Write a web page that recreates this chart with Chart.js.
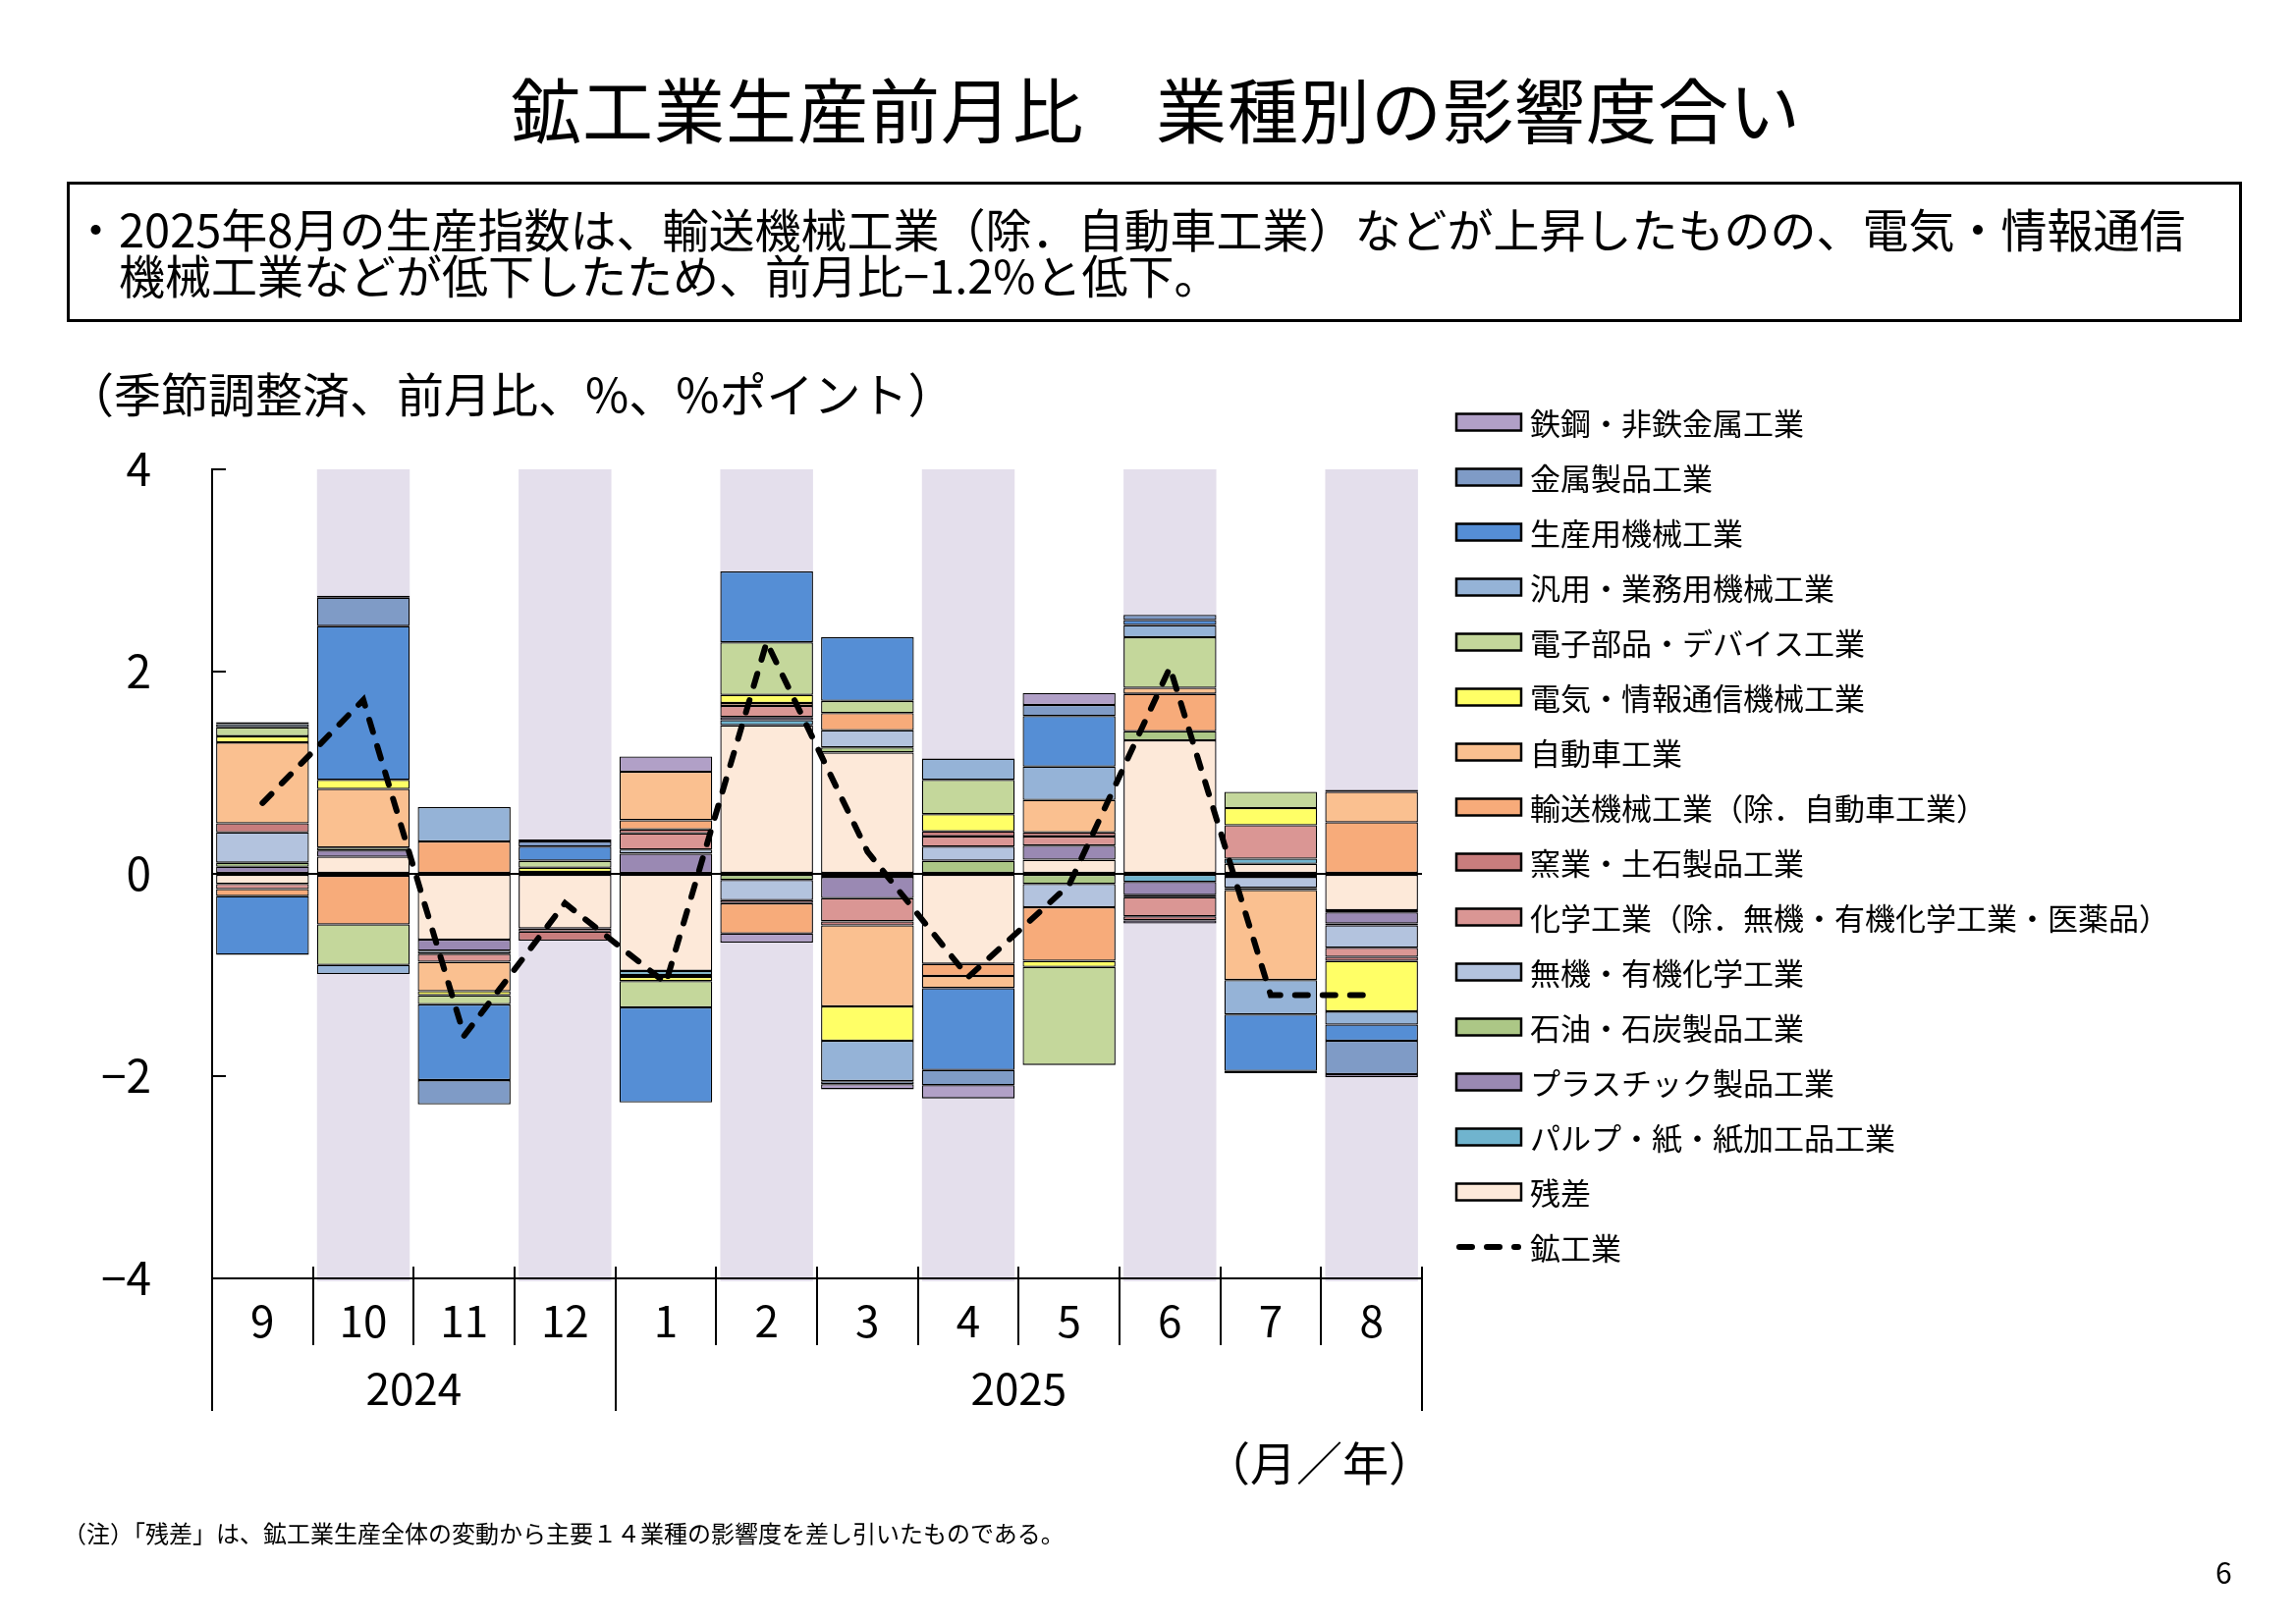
<!DOCTYPE html>
<html lang="ja">
<head>
<meta charset="utf-8">
<title>鉱工業生産前月比　業種別の影響度合い</title>
<script src="https://cdn.jsdelivr.net/npm/chart.js@4.4.1/dist/chart.umd.min.js"></script>
<style>
  html, body { margin: 0; padding: 0; background: #fff; }
  #page {
    position: relative; width: 2338px; height: 1654px; overflow: hidden;
    font-family: 'Noto Sans CJK JP', 'Noto Sans', sans-serif; color: #000;
  }
  #chartBox { position: absolute; left: 0; top: 0; width: 2338px; height: 1654px; }
  .title {
    position: absolute; left: 8px; width: 2338px; top: 73px;
    font-size: 72px; line-height: 72px; text-align: center; letter-spacing: 1px;
  }
  .summary {
    position: absolute; left: 68px; top: 185px; width: 2215px; height: 143px;
    box-sizing: border-box; border: 3px solid #000;
    padding: 20px 0 0 50px; text-indent: -47px;
    font-size: 47px; line-height: 47px;
  }
  .unit { position: absolute; left: 68px; top: 374px; font-size: 48px; line-height: 50px; }
  .xunit { position: absolute; right: 877px; top: 1463px; font-size: 47px; line-height: 50px; }
  .note { position: absolute; left: 64px; top: 1547px; font-size: 24px; line-height: 28px; }
  .pageno { position: absolute; left: 2256px; top: 1582px; font-size: 30px; line-height: 36px; }
</style>
</head>
<body>
<div id="page">
  <div id="chartBox"><canvas id="chart"></canvas></div>
  <div class="title">鉱工業生産前月比　業種別の影響度合い</div>
  <div class="summary">・2025年8月の生産指数は、輸送機械工業（除．自動車工業）などが上昇したものの、電気・情報通信<br>機械工業などが低下したため、前月比−1.2%と低下。</div>
  <div class="unit">（季節調整済、前月比、%、%ポイント）</div>
  <div class="xunit">（月／年）</div>
  <div class="note">（注）「残差」は、鉱工業生産全体の変動から主要１４業種の影響度を差し引いたものである。</div>
  <div class="pageno">6</div>
</div>
<script>
const FONT = "'Noto Sans CJK JP', 'Noto Sans', sans-serif";

// Months (2024/9 - 2025/8)
const months = ["9", "10", "11", "12", "1", "2", "3", "4", "5", "6", "7", "8"];
const yearLabels = ["2024", "2025"];
const yearSpans = [4, 8];

// Contributions by industry, %pt
const residual   = [-0.10, 0.17, -0.65, -0.54, -0.96, 1.47, 1.20, -0.89, 0.14, 1.32, 0.10, -0.36];
const pulp       = [0, 0, 0, 0, -0.04, 0.05, -0.03, 0, 0, -0.08, 0.05, -0.02];
const plastic    = [0.07, 0.06, -0.11, 0, 0.20, 0.03, -0.21, 0, 0.14, -0.13, 0, -0.11];
const petroleum  = [0.04, 0.03, 0, 0, -0.02, -0.06, 0.05, 0.13, -0.10, 0.09, -0.03, -0.02];
const inorganic  = [0.30, -0.02, -0.03, 0.02, 0.04, -0.20, 0.17, 0.14, -0.23, -0.02, -0.11, -0.22];
const chemical   = [-0.05, 0, -0.08, -0.03, 0.16, 0.11, -0.23, 0.10, 0.09, -0.19, 0.33, -0.09];
const ceramics   = [0.09, 0, 0, -0.09, 0.04, -0.03, -0.04, 0.05, 0.04, -0.04, -0.02, -0.04];
const transport  = [-0.07, -0.48, 0.32, 0, 0.09, -0.30, 0.17, -0.12, -0.53, 0.37, 0, 0.51];
const autos      = [0.80, 0.58, -0.29, 0, 0.48, 0.03, -0.80, -0.12, 0.32, 0.06, -0.89, 0.30];
const electric   = [0.06, 0.09, -0.04, 0.04, -0.04, 0.08, -0.34, 0.17, -0.06, 0, 0.17, -0.50];
const electronic = [0.09, -0.40, -0.09, 0.07, -0.26, 0.52, 0.12, 0.34, -0.97, 0.50, 0.16, 0.02];
const general    = [0.03, -0.09, 0.34, 0, 0, 0, -0.40, 0.21, 0.33, 0.12, -0.34, -0.13];
const production = [-0.58, 1.52, -0.75, 0.14, -0.94, 0.70, 0.63, -0.81, 0.50, 0.05, -0.56, -0.16];
const metal      = [0, 0.28, -0.24, 0.05, 0, 0, -0.03, -0.15, 0.11, 0.05, -0.02, -0.33];
const steel      = [0.02, 0.02, 0, 0.02, 0.15, -0.09, -0.05, -0.13, 0.12, -0.03, 0, -0.03];

// Mining & manufacturing, m/m %
const total = [0.70, 1.72, -1.60, -0.29, -1.08, 2.29, 0.22, -1.02, -0.11, 2.04, -1.20, -1.20];

// Stack order from zero outward
const barSeries = [
  ["残差", residual, "#fde9d9"],
  ["パルプ・紙・紙加工品工業", pulp, "#70b4ce"],
  ["プラスチック製品工業", plastic, "#9a89b3"],
  ["石油・石炭製品工業", petroleum, "#acc786"],
  ["無機・有機化学工業", inorganic, "#b3c3de"],
  ["化学工業（除．無機・有機化学工業・医薬品）", chemical, "#da9694"],
  ["窯業・土石製品工業", ceramics, "#c87d7d"],
  ["輸送機械工業（除．自動車工業）", transport, "#f7ab7a"],
  ["自動車工業", autos, "#fac090"],
  ["電気・情報通信機械工業", electric, "#ffff66"],
  ["電子部品・デバイス工業", electronic, "#c4d79b"],
  ["汎用・業務用機械工業", general, "#95b3d7"],
  ["生産用機械工業", production, "#558ed5"],
  ["金属製品工業", metal, "#7f9bc6"],
  ["鉄鋼・非鉄金属工業", steel, "#b1a0c7"],
];

const BAR_PCT = 0.92;

// Shaded background for every other month
const bandsPlugin = {
  id: "bands",
  beforeDraw(chart) {
    const { ctx, chartArea, scales: { x } } = chart;
    const catW = (chartArea.right - chartArea.left) / months.length;
    ctx.save();
    ctx.fillStyle = "#e4dfec";
    months.forEach((m, i) => {
      if (i % 2 === 1) {
        const cx = x.getPixelForValue(i);
        ctx.fillRect(cx - catW * BAR_PCT / 2, chartArea.top, catW * BAR_PCT, chartArea.bottom - chartArea.top + 3);
      }
    });
    ctx.restore();
  },
};

// Inner y ticks, month separators and year row
const axisPlugin = {
  id: "axisDecor",
  afterDraw(chart) {
    const { ctx, chartArea, scales: { y } } = chart;
    const catW = (chartArea.right - chartArea.left) / months.length;
    ctx.save();
    ctx.strokeStyle = "#000";
    ctx.lineWidth = 2;
    ctx.beginPath();
    y.ticks.forEach((t) => {
      const py = Math.round(y.getPixelForValue(t.value));
      ctx.moveTo(chartArea.left, py);
      ctx.lineTo(chartArea.left + 14, py);
    });
    const bottom = chartArea.bottom;
    const yearBottom = bottom + 135;
    const longAt = [yearSpans[0], months.length];
    for (let k = 1; k <= months.length; k++) {
      const px = Math.round(chartArea.left + k * catW);
      ctx.moveTo(px, bottom - 12);
      ctx.lineTo(px, longAt.includes(k) ? yearBottom : bottom + 68);
    }
    ctx.moveTo(chartArea.left, bottom);
    ctx.lineTo(chartArea.left, yearBottom);
    ctx.stroke();

    ctx.fillStyle = "#000";
    ctx.font = "44px " + FONT;
    ctx.textAlign = "center";
    ctx.textBaseline = "middle";
    let start = 0;
    yearLabels.forEach((label, i) => {
      const x0 = chartArea.left + start * catW;
      const x1 = x0 + yearSpans[i] * catW;
      ctx.fillText(label, (x0 + x1) / 2, bottom + 112);
      start += yearSpans[i];
    });
    ctx.restore();
  },
};

// Legend on the right, top item = last stacked series
const legendPlugin = {
  id: "sideLegend",
  afterDraw(chart) {
    const { ctx } = chart;
    const left = 1483, boxW = 66, boxH = 17, textX = 1558, top = 430, step = 56;
    const sets = chart.data.datasets;
    const bars = sets.filter((d) => d.type !== "line").reverse();
    const lines = sets.filter((d) => d.type === "line");
    ctx.save();
    ctx.font = "31px " + FONT;
    ctx.textBaseline = "middle";
    ctx.textAlign = "left";
    bars.concat(lines).forEach((d, i) => {
      const cy = top + i * step;
      if (d.type === "line") {
        ctx.strokeStyle = d.borderColor;
        ctx.lineWidth = d.borderWidth;
        ctx.lineCap = "round";
        ctx.setLineDash(d.borderDash);
        ctx.beginPath();
        ctx.moveTo(left + 3, cy);
        ctx.lineTo(left + boxW - 3, cy);
        ctx.stroke();
        ctx.setLineDash([]);
      } else {
        ctx.fillStyle = d.backgroundColor;
        ctx.fillRect(left, cy - boxH / 2, boxW, boxH);
        ctx.strokeStyle = "#000";
        ctx.lineWidth = 2.5;
        ctx.strokeRect(left, cy - boxH / 2, boxW, boxH);
      }
      ctx.fillStyle = "#000";
      ctx.fillText(d.label, textX, cy + 1);
    });
    ctx.restore();
  },
};

const datasets = barSeries.map(([label, data, color]) => ({
  type: "bar",
  label: label,
  data: data,
  backgroundColor: color,
  borderColor: "#000",
  borderWidth: (c) => (c.raw ? 1.3 : 0),
  borderSkipped: false,
  barPercentage: BAR_PCT,
  categoryPercentage: 1.0,
  order: 1,
}));

datasets.push({
  type: "line",
  label: "鉱工業",
  data: total,
  borderColor: "#000",
  borderWidth: 6,
  borderDash: [13, 15],
  borderCapStyle: "round",
  pointRadius: 0,
  fill: false,
  tension: 0,
  stack: "total",
  order: 0,
});

Chart.defaults.font.family = FONT;
Chart.defaults.color = "#000";

new Chart(document.getElementById("chart"), {
  data: { labels: months, datasets: datasets },
  options: {
    animation: false,
    responsive: true,
    maintainAspectRatio: false,
    layout: { padding: { left: 60, top: 478, right: 890, bottom: 272 } },
    plugins: {
      legend: { display: false },
      tooltip: { enabled: false },
    },
    scales: {
      x: {
        stacked: true,
        offset: true,
        grid: { display: false, drawTicks: false },
        border: { display: true, color: "#000", width: 2 },
        ticks: { color: "#000", font: { size: 44 }, padding: 17, maxRotation: 0, autoSkip: false },
        afterFit: (s) => { s.height = 80; },
      },
      y: {
        stacked: true,
        min: -4,
        max: 4,
        ticks: {
          stepSize: 2,
          color: "#000",
          font: { size: 46 },
          padding: 62,
          callback: (v) => (v < 0 ? "−" + Math.abs(v) : String(v)),
        },
        grid: {
          drawTicks: false,
          color: (c) => (c.tick && c.tick.value === 0 ? "#000" : "rgba(0,0,0,0)"),
          lineWidth: 2,
        },
        border: { color: "#000", width: 2 },
        afterFit: (s) => { s.width = 156; },
      },
    },
  },
  plugins: [bandsPlugin, axisPlugin, legendPlugin],
});
</script>
</body>
</html>
